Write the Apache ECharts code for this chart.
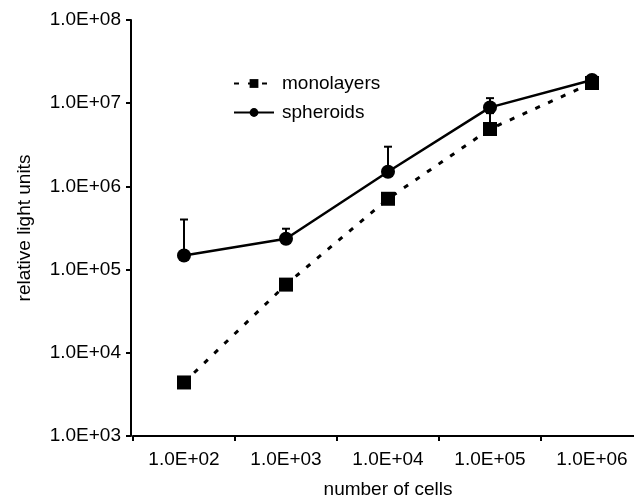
<!DOCTYPE html>
<html>
<head>
<meta charset="utf-8">
<script src="https://cdn.jsdelivr.net/npm/echarts@6/dist/echarts.min.js"></script>
<style>
  html, body { margin: 0; padding: 0; background: #fff; overflow: hidden; }
  #chart { width: 650px; height: 504px; }
</style>
</head>
<body>
<div id="chart"></div>
<script>
// number of cells (x categories)
const cellCounts = ['1.0E+02', '1.0E+03', '1.0E+04', '1.0E+05', '1.0E+06'];
// relative light units
const monolayers = [4.4e3, 6.6e4, 7.1e5, 4.9e6, 1.75e7];
const spheroids = [1.48e5, 2.35e5, 1.5e6, 8.9e6, 1.9e7];
// upper ends of the error bars
const monolayersErrTop = [4.9e3, 7.0e4, 7.6e5, 7.6e6, 1.8e7];
const spheroidsErrTop = [4.0e5, 3.1e5, 3.0e6, 1.15e7, 2.0e7];

const font = 'Liberation Sans, Arial, sans-serif';

function errorBars(values, tops) {
  return values.map((v, i) => [i, v, tops[i]]);
}

function renderErr(params, api) {
  const base = api.coord([api.value(0), api.value(1)]);
  const top = api.coord([api.value(0), api.value(2)]);
  const half = 4;
  return {
    type: 'group',
    children: [
      { type: 'line', shape: { x1: base[0], y1: base[1], x2: top[0], y2: top[1] },
        style: { stroke: '#000', lineWidth: 2 } },
      { type: 'line', shape: { x1: top[0] - half, y1: top[1], x2: top[0] + half, y2: top[1] },
        style: { stroke: '#000', lineWidth: 2 } }
    ]
  };
}

const chart = echarts.init(document.getElementById('chart'));
chart.setOption({
  animation: false,
  backgroundColor: '#fff',
  textStyle: { fontFamily: font },
  // the x axis runs past the right edge of the 634px window
  grid: { left: 133, top: 20, height: 417, width: 510 },
  legend: {
    orient: 'vertical',
    left: 228,
    top: 69,
    itemWidth: 40,
    itemHeight: 11,
    itemGap: 10,
    textStyle: { fontSize: 19, color: '#000', fontFamily: font, padding: [0, 0, 0, 3] },
    data: ['monolayers', 'spheroids']
  },
  xAxis: {
    type: 'category',
    data: cellCounts,
    boundaryGap: true,
    name: 'number of cells',
    nameLocation: 'middle',
    nameGap: 44,
    nameTextStyle: { fontSize: 19, color: '#000' },
    axisLine: { lineStyle: { color: '#000', width: 2 } },
    axisTick: { show: true, inside: false, length: 5, lineStyle: { color: '#000', width: 2 } },
    axisLabel: { fontSize: 19, color: '#000', margin: 14 },
    splitLine: { show: false }
  },
  yAxis: {
    type: 'log',
    logBase: 10,
    min: 1e3,
    max: 1e8,
    offset: 2,
    name: 'relative light units',
    nameLocation: 'middle',
    nameGap: 97,
    nameTextStyle: { fontSize: 19, color: '#000' },
    axisLine: { show: true, lineStyle: { color: '#000', width: 2 } },
    axisTick: { show: true, length: 5, lineStyle: { color: '#000', width: 2 } },
    axisLabel: {
      fontSize: 19, color: '#000', margin: 10,
      formatter: v => '1.0E+' + String(Math.round(Math.log10(v))).padStart(2, '0')
    },
    splitLine: { show: false }
  },
  series: [
    {
      name: 'monolayers',
      type: 'line',
      data: monolayers,
      symbol: 'rect',
      symbolSize: 14,
      itemStyle: { color: '#000' },
      lineStyle: { color: '#000', width: 3, type: [5, 9] },
      z: 3
    },
    {
      name: 'spheroids',
      type: 'line',
      data: spheroids,
      symbol: 'circle',
      symbolSize: 14,
      itemStyle: { color: '#000' },
      lineStyle: { color: '#000', width: 2.5 },
      z: 3
    },
    {
      name: 'monolayersErr',
      type: 'custom',
      renderItem: renderErr,
      data: errorBars(monolayers, monolayersErrTop),
      encode: { x: 0, y: [1, 2] },
      z: 2
    },
    {
      name: 'spheroidsErr',
      type: 'custom',
      renderItem: renderErr,
      data: errorBars(spheroids, spheroidsErrTop),
      encode: { x: 0, y: [1, 2] },
      z: 2
    }
  ]
});
window.addEventListener('resize', () => chart.resize());
</script>
</body>
</html>
